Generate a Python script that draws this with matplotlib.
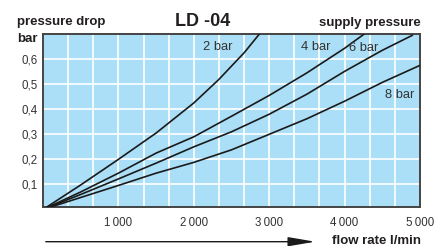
import matplotlib
matplotlib.use("Agg")
import matplotlib.pyplot as plt
from matplotlib.ticker import MultipleLocator, FixedLocator

plt.rcParams['font.family'] = ['Liberation Sans', 'DejaVu Sans']

# -----------------------------
# data
# -----------------------------
flow_2bar = [0, 500, 1000, 1500, 2000, 2330, 2670, 2870]
dp_2bar = [0, 0.098, 0.20, 0.305, 0.425, 0.518, 0.626, 0.70]

flow_4bar = [0, 500, 1000, 1500, 2000, 2500, 3000, 3500, 4000, 4260]
dp_4bar = [0, 0.07, 0.145, 0.225, 0.29, 0.372, 0.455, 0.545, 0.643, 0.70]

flow_6bar = [0, 500, 1000, 1500, 2000, 2500, 3000, 3500, 4000, 4500, 4900]
dp_6bar = [0, 0.06, 0.122, 0.185, 0.25, 0.31, 0.38, 0.46, 0.551, 0.635, 0.695]

flow_8bar = [0, 500, 1000, 1500, 2000, 2500, 3000, 3500, 4000, 4500, 5000]
dp_8bar = [0, 0.048, 0.096, 0.145, 0.188, 0.238, 0.30, 0.362, 0.432, 0.507, 0.575]

curve_labels = ['2 bar', '4 bar', '6 bar', '8 bar']
label_pos = [(2314, 0.649), (3620, 0.649), (4255, 0.643), (4737, 0.458)]

x_ticks = [1000, 2000, 3000, 4000, 5000]
x_ticklabels = ['1\u2009000', '2\u2009000', '3\u2009000', '4\u2009000', '5\u2009000']
y_ticks = [0.1, 0.2, 0.3, 0.4, 0.5, 0.6]
y_ticklabels = ['0,1', '0,2', '0,3', '0,4', '0,5', '0,6']

# -----------------------------
# figure
# -----------------------------
fig = plt.figure(figsize=(4.48, 2.46), dpi=100)
ax = fig.add_axes([0.096, 0.1585, 0.8415, 0.7033])
ax.set_facecolor('#aadff7')

for fx, fy in [(flow_2bar, dp_2bar), (flow_4bar, dp_4bar),
               (flow_6bar, dp_6bar), (flow_8bar, dp_8bar)]:
    ax.plot(fx, fy, color='#1a1a1a', lw=1.2, solid_capstyle='round', zorder=3)

for lab, (lx, ly) in zip(curve_labels, label_pos):
    ax.text(lx, ly, lab, fontsize=9.3, color='#333333', ha='center', va='center', zorder=4)

ax.set_xlim(0, 5000)
ax.set_ylim(0.01, 0.70)

ax.xaxis.set_major_locator(FixedLocator(x_ticks))
ax.set_xticklabels(x_ticklabels)
ax.xaxis.set_minor_locator(MultipleLocator(1000 / 3))
ax.set_yticks(y_ticks)
ax.set_yticklabels(y_ticklabels)

ax.grid(True, which='both', color='white', lw=1.2, zorder=1)
ax.set_axisbelow(True)
ax.tick_params(which='both', length=0, labelsize=8.3, labelcolor='#333333')
ax.tick_params(axis='x', pad=7)
ax.tick_params(axis='y', pad=4)

for sp in ax.spines.values():
    sp.set_color('#444444')
    sp.set_linewidth(1.4)

# headings
fig.text(0.038, 1 - 25.5 / 246, 'pressure drop', fontsize=9.5, fontweight='bold',
         color='#231f20', ha='left', va='baseline')
fig.text(0.038, 1 - 41.5 / 246, 'bar', fontsize=9.5, fontweight='bold',
         color='#231f20', ha='left', va='baseline')
fig.text(202.5 / 448, 1 - 26 / 246, 'LD -04', fontsize=13, fontweight='bold',
         color='#231f20', ha='center', va='baseline')
fig.text(420.5 / 448, 1 - 26 / 246, 'supply pressure', fontsize=9.5, fontweight='bold',
         color='#231f20', ha='right', va='baseline')

# flow rate arrow
fig.patches.append(matplotlib.patches.FancyArrowPatch(
    (43 / 448, 1 - 241.7 / 246), (318 / 448, 1 - 241.7 / 246),
    transform=fig.transFigure, arrowstyle='-|>,head_length=1.65,head_width=0.28',
    mutation_scale=10, color='#1a1a1a', lw=1.0))
fig.text(420.5 / 448, 1 - 244.5 / 246, 'flow rate l/min', fontsize=9.5, fontweight='bold',
         color='#231f20', ha='right', va='baseline')

fig.savefig('out.png', dpi=100)
